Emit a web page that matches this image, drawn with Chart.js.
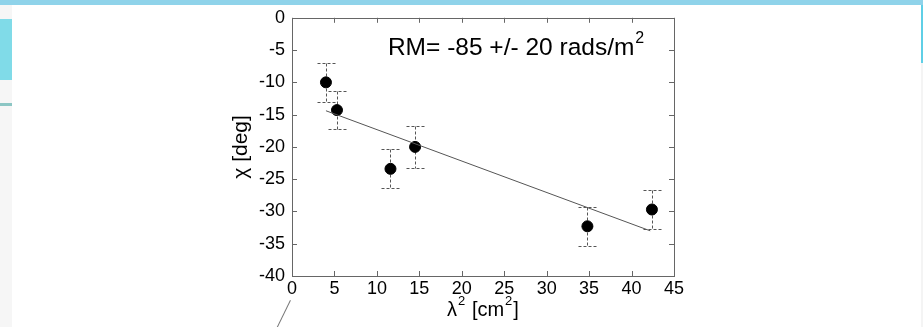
<!DOCTYPE html>
<html>
<head>
<meta charset="utf-8">
<script src="https://cdn.jsdelivr.net/npm/chart.js@4/dist/chart.umd.min.js"></script>
<style>
  body { margin: 0; background: #fff; }
  #wrap { position: relative; width: 923px; height: 327px; overflow: hidden; }
  .deco { position: absolute; }
  canvas { position: absolute; left: 0; top: 0; }
</style>
</head>
<body>
<div id="wrap">
  <div class="deco" style="left:0;top:0;width:923px;height:5px;background:#8fd3ea;"></div>
  <div class="deco" style="left:0;top:5px;width:12px;height:322px;background:#f6f6f6;"></div>
  <div class="deco" style="left:0;top:19px;width:12px;height:61px;background:#80dbe8;"></div>
  <div class="deco" style="left:0;top:103px;width:12px;height:3px;background:#8cc6c4;"></div>
  <div class="deco" style="left:921px;top:5px;width:2px;height:322px;background:#f4f4f4;"></div>
  <div class="deco" style="left:921px;top:5px;width:2px;height:58px;background:#5fcfe6;"></div>
  <div class="deco" style="left:290px;top:300px;width:1px;height:31px;background:#777;transform:rotate(26deg);transform-origin:top left;"></div>
  <canvas id="rmChart" width="923" height="327"></canvas>
</div>
<script>
// Data
const lambdaSq = [4.0, 5.3, 11.6, 14.5, 34.8, 42.4];
const chi = [-10.0, -14.3, -23.4, -20.0, -32.3, -29.7];
const chiErr = [3.0, 3.0, 3.0, 3.3, 3.0, 3.0];
const fitX = [4.0, 42.2];
const fitY = [-14.4, -33.0];
const xTicks = [0, 5, 10, 15, 20, 25, 30, 35, 40, 45];
const yTicks = [0, -5, -10, -15, -20, -25, -30, -35, -40];

const FONT = 'Liberation Sans, Arial, Helvetica, sans-serif';

// draws text pieces, some of them raised as superscripts
function drawPieces(ctx, pieces, x, y, align) {
    let total = 0;
    pieces.forEach(p => {
        ctx.font = p.size + 'px ' + FONT;
        total += ctx.measureText(p.t).width + (p.gap || 0);
    });
    let cx = align === 'center' ? x - total / 2 : x;
    pieces.forEach(p => {
        ctx.font = p.size + 'px ' + FONT;
        cx += p.gap || 0;
        ctx.fillText(p.t, cx, y - (p.rise || 0));
        cx += ctx.measureText(p.t).width;
    });
}

// box, inward ticks, error bars and the labels
const extrasPlugin = {
    id: 'extras',
    beforeDatasetsDraw(chart) {
        const ctx = chart.ctx;
        const a = chart.chartArea;
        const xs = chart.scales.x;
        const ys = chart.scales.y;
        ctx.save();
        ctx.strokeStyle = '#666';
        ctx.lineWidth = 1;
        ctx.strokeRect(Math.round(a.left) + 0.5, Math.round(a.top) + 0.5,
            Math.round(a.right - a.left), Math.round(a.bottom - a.top));
        ctx.beginPath();
        xTicks.forEach(v => {
            const px = Math.round(xs.getPixelForValue(v)) + 0.5;
            ctx.moveTo(px, a.top); ctx.lineTo(px, a.top + 5);
            ctx.moveTo(px, a.bottom); ctx.lineTo(px, a.bottom - 5);
        });
        yTicks.forEach(v => {
            const py = Math.round(ys.getPixelForValue(v)) + 0.5;
            ctx.moveTo(a.left, py); ctx.lineTo(a.left + 5, py);
            ctx.moveTo(a.right, py); ctx.lineTo(a.right - 5, py);
        });
        ctx.stroke();

        // error bars
        ctx.strokeStyle = '#555';
        ctx.setLineDash([3, 2]);
        ctx.beginPath();
        lambdaSq.forEach((x, i) => {
            const px = Math.round(xs.getPixelForValue(x)) + 0.5;
            const top = Math.round(ys.getPixelForValue(chi[i] + chiErr[i])) + 0.5;
            const bot = Math.round(ys.getPixelForValue(chi[i] - chiErr[i])) + 0.5;
            ctx.moveTo(px, top); ctx.lineTo(px, bot);
            ctx.moveTo(px - 9, top); ctx.lineTo(px + 9, top);
            ctx.moveTo(px - 9, bot); ctx.lineTo(px + 9, bot);
        });
        ctx.stroke();
        ctx.restore();
    },
    afterDatasetsDraw(chart) {
        const ctx = chart.ctx;
        const a = chart.chartArea;
        const xs = chart.scales.x;
        const ys = chart.scales.y;
        ctx.save();
        ctx.fillStyle = '#000';
        ctx.textBaseline = 'alphabetic';
        drawPieces(ctx, [
            { t: 'RM= -85 +/- 20 rads/m', size: 24.5 },
            { t: '2', size: 16, rise: 12, gap: 1 }
        ], xs.getPixelForValue(11.3), ys.getPixelForValue(-5.7), 'left');

        // x axis title with superscripts
        drawPieces(ctx, [
            { t: 'λ', size: 20 },
            { t: '2', size: 13, rise: 11, gap: 1 },
            { t: ' [cm', size: 20, gap: 1 },
            { t: '2', size: 13, rise: 11, gap: 1 },
            { t: ']', size: 20, gap: 1 }
        ], (a.left + a.right) / 2, 316, 'center');
        ctx.restore();
    }
};

const ctx1 = document.getElementById('rmChart').getContext('2d');
const rmChart = new Chart(ctx1, {
    type: 'scatter',
    data: {
        datasets: [{
            type: 'line',
            label: 'fit',
            data: fitX.map((x, i) => ({ x: x, y: fitY[i] })),
            borderColor: '#555',
            borderWidth: 1,
            pointRadius: 0,
            fill: false
        }, {
            label: 'chi',
            data: lambdaSq.map((x, i) => ({ x: x, y: chi[i] })),
            backgroundColor: '#000',
            borderColor: '#000',
            pointRadius: 5.5,
            pointHoverRadius: 5.5
        }]
    },
    options: {
        responsive: false,
        animation: false,
        layout: { padding: { left: 229, right: 249, top: 16, bottom: 0 } },
        plugins: {
            legend: { display: false },
            tooltip: { enabled: false }
        },
        scales: {
            x: {
                type: 'linear',
                min: 0,
                max: 45,
                afterFit(scale) { scale.height = 51; },
                afterBuildTicks(scale) { scale.ticks = xTicks.map(v => ({ value: v })); },
                grid: { display: false, drawTicks: false },
                border: { display: false },
                ticks: { color: '#000', padding: 2, font: { family: FONT, size: 18 } },
                title: { display: false }
            },
            y: {
                type: 'linear',
                min: -40,
                max: 0,
                afterFit(scale) { scale.width = 63; },
                afterBuildTicks(scale) { scale.ticks = yTicks.map(v => ({ value: v })); },
                grid: { display: false, drawTicks: false },
                border: { display: false },
                ticks: { color: '#000', padding: 7, font: { family: FONT, size: 18 } },
                title: {
                    display: true,
                    text: 'χ [deg]',
                    color: '#000',
                    padding: { top: 0, bottom: 0 },
                    font: { family: FONT, size: 21 }
                }
            }
        }
    },
    plugins: [extrasPlugin]
});
</script>
</body>
</html>
